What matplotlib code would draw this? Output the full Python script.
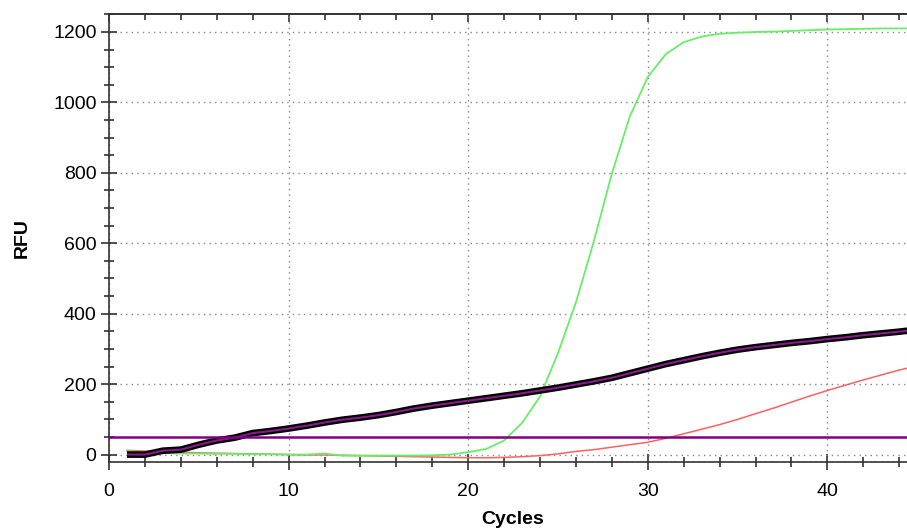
import numpy as np
import matplotlib.pyplot as plt
from matplotlib.ticker import MultipleLocator

plt.rcParams['font.family'] = ['Liberation Sans', 'DejaVu Sans']

cycles = list(range(1, 46))

# green well - amplifies strongly
green = [10, 6, 4, 3, 3, 2, 2, 1, 1, 0, 0, 3, -3, -3, -3, -3, -3, -2, 0, 7,
         16, 40, 90, 165, 288, 432, 606, 798, 960, 1072, 1137, 1171, 1187, 1195, 1198,
         1200, 1201, 1203, 1205, 1207, 1208, 1209, 1210, 1210, 1210]

# red well - late rise
red = [12, 10, 8, 7, 5, 4, 3, 2, 1, 0, -1, -1, -2, -3, -4, -5, -6, -7, -8, -9,
       -9, -8, -6, -3, 2, 9, 14, 21, 28, 35, 46, 59, 72, 85, 100, 116, 132, 149, 166,
       182, 197, 212, 226, 240, 252]

# highlighted well (black outline, purple core)
black = [0, 0, 11, 14, 28, 40, 48, 61, 67, 74, 82, 91, 99, 105, 112, 121, 131, 139, 146, 153,
         160, 167, 174, 182, 190, 199, 208, 218, 231, 244, 257, 268, 279, 289, 298,
         305, 311, 317, 322, 328, 333, 339, 344, 349, 355]

threshold = 50

fig = plt.figure(figsize=(9.07, 5.29), dpi=100)
ax = fig.add_axes([0.1202, 0.1267, 0.889, 0.8468])

ax.plot(cycles, red, color='#ff6060', lw=1.1)
ax.plot(cycles, green, color='#66ee66', lw=1.3)
ax.plot(cycles, black, color='black', lw=4.8, solid_capstyle='butt')
ax.plot(cycles, black, color='#8a1a8a', lw=1.5, solid_capstyle='butt')
ax.axhline(threshold, color='#800080', lw=1.8)

ax.set_xlim(0, 44.9)
ax.set_ylim(-21, 1251)
ax.xaxis.set_major_locator(MultipleLocator(10))
ax.xaxis.set_minor_locator(MultipleLocator(2))
ax.yaxis.set_major_locator(MultipleLocator(200))
ax.yaxis.set_minor_locator(MultipleLocator(50))

ax.grid(True, which='major', linestyle=(0, (1, 3)), color='#888888', lw=1)
ax.set_axisbelow(True)

for s in ax.spines.values():
    s.set_color('#333333')
    s.set_linewidth(1.2)
ax.spines['right'].set_visible(False)

ax.tick_params(axis='both', which='major', direction='inout', length=12, width=1.2,
               color='#333333', labelsize=14, pad=3)
ax.tick_params(axis='both', which='minor', direction='inout', length=7, width=1.2,
               color='#333333')
ax.xaxis.set_tick_params(which='major', pad=9)

# top axis: ticks pointing inward only
top = ax.secondary_xaxis('top')
top.xaxis.set_major_locator(MultipleLocator(10))
top.xaxis.set_minor_locator(MultipleLocator(2))
top.tick_params(which='major', direction='in', length=6, width=1.2, color='#333333', labeltop=False)
top.tick_params(which='minor', direction='in', length=4, width=1.2, color='#333333')
top.spines['top'].set_color('#333333')
top.spines['top'].set_linewidth(1.2)

ax.set_xlabel('Cycles', fontsize=14, fontweight='bold', labelpad=8)
ax.set_ylabel('RFU', fontsize=14, fontweight='bold', labelpad=16)

fig.savefig('out.png', dpi=100)
